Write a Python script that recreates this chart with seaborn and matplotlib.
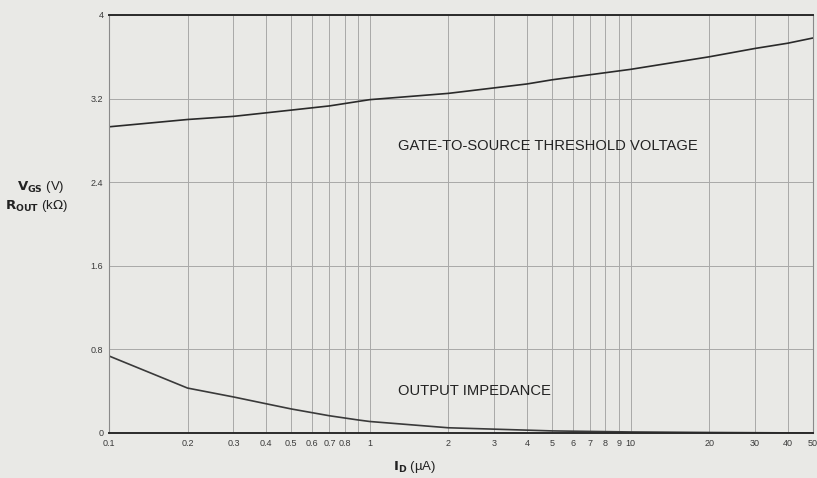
import numpy as np
import pandas as pd
import matplotlib.pyplot as plt
import seaborn as sns
from matplotlib.ticker import FixedLocator, NullLocator, NullFormatter

# Values
vgs_current = [0.1, 0.2, 0.3, 0.5, 0.7, 1, 2, 4, 5, 10, 20, 30, 40, 50]
vgs_volts = [2.93, 3.00, 3.03, 3.09, 3.13, 3.19, 3.25, 3.34, 3.38, 3.48, 3.60, 3.68, 3.73, 3.78]
rout_current = [0.1, 0.2, 0.3, 0.4, 0.5, 0.7, 0.9, 1, 2, 5, 10, 20, 50]
rout_kohm = [0.737, 0.43, 0.345, 0.28, 0.23, 0.165, 0.125, 0.11, 0.05, 0.02, 0.01, 0.005, 0.0]

x_ticks = [0.1, 0.2, 0.3, 0.4, 0.5, 0.6, 0.7, 0.8, 1, 2, 3, 4, 5, 6, 7, 8, 9, 10, 20, 30, 40, 50]
x_labels = ['0.1', '0.2', '0.3', '0.4', '0.5', '0.6', '0.7', '0.8', '1', '2', '3', '4',
            '5', '6', '7', '8', '9', '10', '20', '30', '40', '50']
x_grid = [0.1, 0.2, 0.3, 0.4, 0.5, 0.6, 0.7, 0.8, 0.9, 1, 2, 3, 4, 5, 6, 7, 8, 9, 10, 20, 30, 40, 50]
y_ticks = [0, 0.8, 1.6, 2.4, 3.2, 4]
y_labels = ['0', '0.8', '1.6', '2.4', '3.2', '4']

df = pd.DataFrame({'I': vgs_current + rout_current,
                   'val': vgs_volts + rout_kohm,
                   'curve': ['vgs'] * len(vgs_current) + ['rout'] * len(rout_current)})

sns.set_style('white')
plt.rcParams['font.family'] = ['Liberation Sans', 'DejaVu Sans']
plt.rcParams['mathtext.fontset'] = 'dejavusans'

bg = '#e9e9e6'
fig = plt.figure(figsize=(8.17, 4.78), dpi=100, facecolor=bg)
ax = fig.add_axes([109 / 817, 1 - 433 / 478, 704 / 817, 418 / 478])
ax.set_facecolor(bg)

sns.lineplot(data=df, x='I', y='val', hue='curve', palette={'vgs': '#2a2a2a', 'rout': '#3a3a3a'},
             linewidth=1.2, legend=False, ax=ax)

ax.set_xscale('log')
ax.set_xlim(0.1, 50)
ax.set_ylim(0, 4)

ax.xaxis.set_major_locator(FixedLocator(x_ticks))
ax.set_xticklabels(x_labels, fontsize=6.5, color='#3a3a3a')
ax.xaxis.set_minor_locator(NullLocator())
ax.xaxis.set_minor_formatter(NullFormatter())
ax.set_yticks(y_ticks)
ax.set_yticklabels(y_labels, fontsize=6.5, color='#3a3a3a')
ax.tick_params(length=0, pad=4)

for gx in x_grid:
    ax.axvline(gx, color='#a8a8a8', linewidth=0.7, zorder=0)
for gy in y_ticks:
    ax.axhline(gy, color='#a8a8a8', linewidth=0.7, zorder=0)

for side in ['left', 'right']:
    ax.spines[side].set_color('#8a8a8a')
    ax.spines[side].set_linewidth(0.8)
for side in ['top', 'bottom']:
    ax.spines[side].set_color('#2a2a2a')
    ax.spines[side].set_linewidth(1.4)

ax.text(1.28, 2.75, 'GATE-TO-SOURCE THRESHOLD VOLTAGE', fontsize=10.6, color='#222222',
        ha='left', va='center')
ax.text(1.28, 0.40, 'OUTPUT IMPEDANCE', fontsize=10.6, color='#222222',
        ha='left', va='center')

ax.set_xlabel('')
ax.set_ylabel('')
fig.text(17 / 817, 1 - 187 / 478, r'$\mathbf{V_{GS}}$ (V)', fontsize=9.5, color='#222222',
         ha='left', va='center')
fig.text(5 / 817, 1 - 206 / 478, r'$\mathbf{R_{OUT}}$ (k$\Omega$)', fontsize=9.5, color='#222222',
         ha='left', va='center')
fig.text(415 / 817, 1 - 467 / 478, r'$\mathbf{I_D}$ (µA)', fontsize=9.5, color='#222222',
         ha='center', va='center')

fig.savefig('out.png', dpi=100, facecolor=bg)
